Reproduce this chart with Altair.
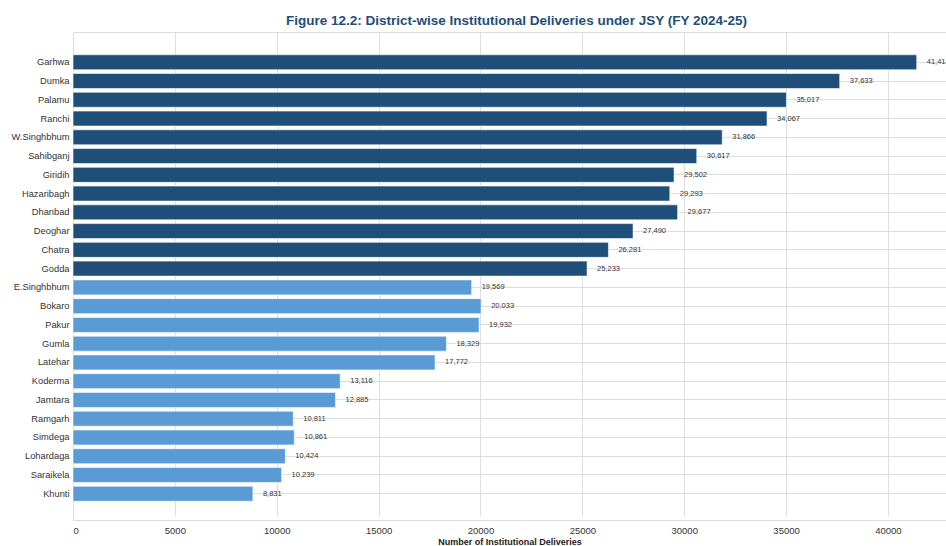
import altair as alt
import pandas as pd

districts = ["Garhwa", "Dumka", "Palamu", "Ranchi", "W.Singhbhum", "Sahibganj", "Giridih",
             "Hazaribagh", "Dhanbad", "Deoghar", "Chatra", "Godda", "E.Singhbhum", "Bokaro",
             "Pakur", "Gumla", "Latehar", "Koderma", "Jamtara", "Ramgarh", "Simdega",
             "Lohardaga", "Saraikela", "Khunti"]
deliveries = [41414, 37633, 35017, 34067, 31866, 30617, 29502, 29293, 29677, 27490, 26281,
              25233, 19569, 20033, 19932, 18329, 17772, 13116, 12885, 10811, 10861, 10424,
              10239, 8831]
groups = ["High"] * 12 + ["Low"] * 12

df = pd.DataFrame({"District": districts, "Deliveries": deliveries, "Group": groups})

y = alt.Y("District:N", sort=districts, title=None,
          scale=alt.Scale(paddingInner=0.2, paddingOuter=1, range=[4, 488]),
          axis=alt.Axis(labelFontSize=9.3, labelColor="#333333", labelFont="Liberation Sans",
                        ticks=False, domain=False, labelPadding=4,
                        grid=True, gridColor="#dddddd", gridWidth=1))
x = alt.X("Deliveries:Q", title="Number of Institutional Deliveries",
          scale=alt.Scale(domain=[0, 42850], nice=False, zero=True),
          axis=alt.Axis(values=[0, 5000, 10000, 15000, 20000, 25000, 30000, 35000, 40000],
                        format="d", labelFontSize=9.5, labelColor="#333333",
                        labelFont="Liberation Sans", ticks=False, domain=False,
                        labelPadding=5, titleFontSize=9, titleFontWeight="bold",
                        titleFont="Liberation Sans", titleColor="#222222", titlePadding=3,
                        gridColor="#dddddd", gridWidth=1))

bars = alt.Chart(df).mark_bar(stroke="white", strokeWidth=0.6).encode(
    x=x, y=y,
    color=alt.Color("Group:N", legend=None,
                    scale=alt.Scale(domain=["High", "Low"], range=["#1f4e79", "#5b9bd5"])),
)

labels = alt.Chart(df).mark_text(align="left", baseline="middle", dx=10, fontSize=7.5,
                                 color="#333333", font="Liberation Sans").encode(
    x="Deliveries:Q", y=alt.Y("District:N", sort=districts),
    text=alt.Text("Deliveries:Q", format=",")
)

chart = alt.layer(bars, labels).properties(
    width=873, height=488,
    autosize=alt.AutoSizeParams(type="none"),
    padding={"left": 73, "top": 32, "right": 0, "bottom": 26},
    title=alt.TitleParams("Figure 12.2: District-wise Institutional Deliveries under JSY (FY 2024-25)",
                          fontSize=13.5, fontWeight="bold", color="#1f4e79",
                          font="Liberation Sans", anchor="middle", offset=5, dx=7),
).configure_view(stroke="#dddddd", strokeWidth=1).configure(background="white")

chart.save("out.html", embed_options={"renderer": "svg", "actions": False})
